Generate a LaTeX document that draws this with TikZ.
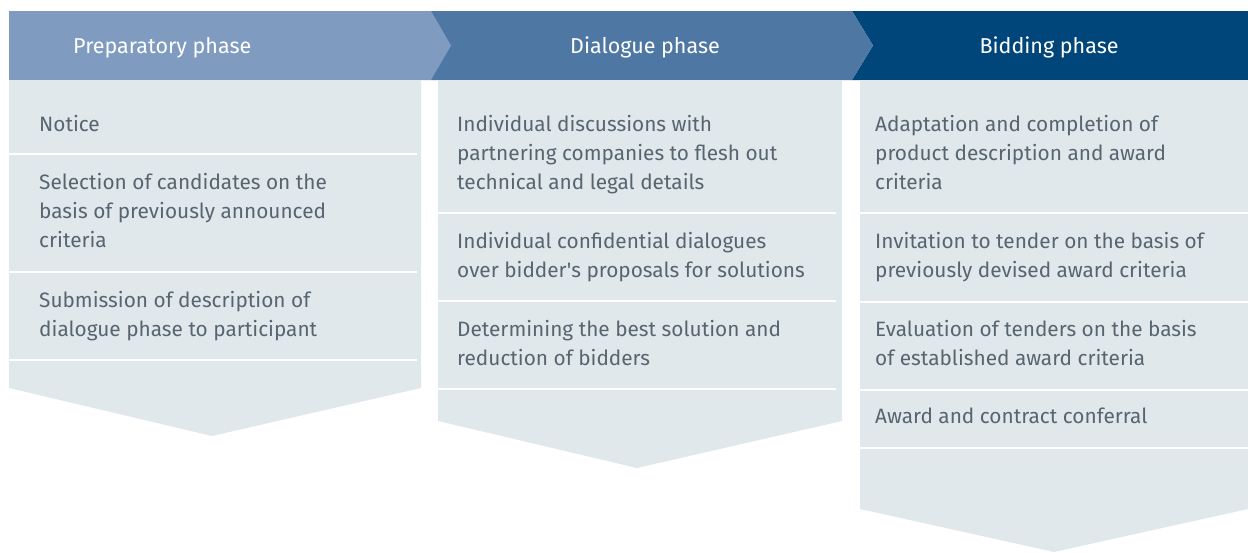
\documentclass[tikz,border=0pt]{standalone}
\usepackage{fontspec}
\setmainfont{Fira Sans}
\definecolor{hA}{HTML}{7F9BC0}
\definecolor{hB}{HTML}{4E78A3}
\definecolor{hC}{HTML}{00467A}
\definecolor{body}{HTML}{E1E8EC}
\definecolor{txt}{HTML}{56656F}
\tikzset{
  item/.style={anchor=base west, inner sep=0pt, align=left, text=txt, font=\fontsize{20.8}{29}\selectfont},
  head/.style={anchor=base, inner sep=0pt, text=white, font=\fontsize{21.5}{29}\selectfont},
  sep/.style={draw=white, line width=2pt},
  panel/.style={fill=body, draw=none}
}
\begin{document}
\begin{tikzpicture}[x=1pt,y=-1pt]
\useasboundingbox (0,0) rectangle (1248,552);
% headers
\fill[hC] (852,11) -- (1248,11) -- (1248,80) -- (852,80) -- (873,45.5) -- cycle;
\fill[hB] (431,11) -- (852,11) -- (873,45.5) -- (852,80) -- (431,80) -- cycle;
\fill[hA] (9,11) -- (431,11) -- (451,45.5) -- (431,80) -- (9,80) -- cycle;
% panels
\fill[panel] (9,80) -- (421,80) -- (421,388) -- (212,436) -- (9,388) -- cycle;
\fill[panel] (438,80) -- (842,80) -- (842,421) -- (637,468) -- (438,421) -- cycle;
\fill[panel] (860,80) -- (1248,80) -- (1248,509) -- (1054,552) -- (860,509) -- cycle;
% separators
\foreach \y in {154,272,360} \draw[sep] (9,\y) -- (417,\y);
\foreach \y in {213,301,389} \draw[sep] (438,\y) -- (836,\y);
\foreach \y in {213,302,390,448} \draw[sep] (860,\y) -- (1248,\y);
% header texts
\node[head, anchor=base west] (h1) at (73,53) {Preparatory phase};
\node[head] (h2) at (645,53) {Dialogue phase};
\node[head] (h3) at (1049,53) {Bidding phase};
% column 1 (anchors at last-line baselines)
\node[item] (a1) at (39,131) {Notice};
\node[item] (a2) at (39,247) {Selection of candidates on the\\basis of previously announced\\criteria};
\node[item] (a3) at (39,336) {Submission of description of\\dialogue phase to participant};
% column 2
\node[item] (b1) at (457,189) {Individual discussions with\\partnering companies to flesh out\\technical and legal details};
\node[item] (b2) at (457,277) {Individual confidential dialogues\\over bidder\textquotesingle s proposals for solutions};
\node[item] (b3) at (457,365) {Determining the best solution and\\reduction of bidders};
% column 3
\node[item] (c1) at (875,189) {Adaptation and completion of\\product description and award\\criteria};
\node[item] (c2) at (875,277) {Invitation to tender on the basis of\\previously devised award criteria};
\node[item] (c3) at (875,365) {Evaluation of tenders on the basis\\of established award criteria};
\node[item] (c4) at (875,423) {Award and contract conferral};
\end{tikzpicture}
\end{document}
